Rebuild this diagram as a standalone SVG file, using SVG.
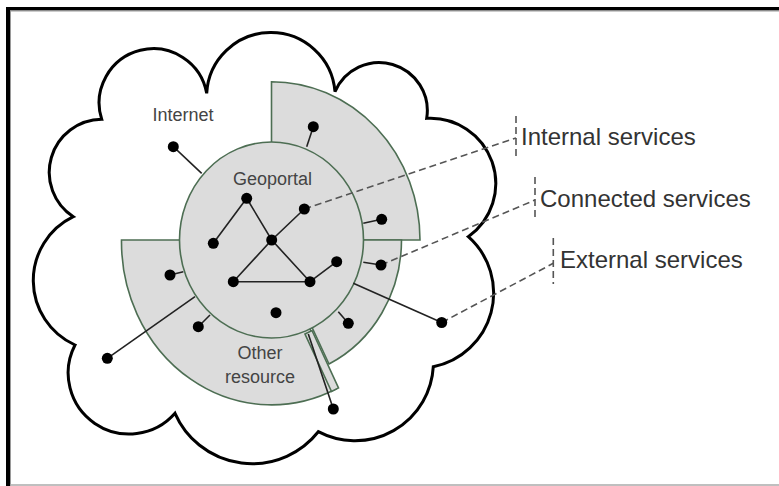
<svg xmlns="http://www.w3.org/2000/svg" width="779" height="486" viewBox="0 0 779 486">
  <style>
    .cloud { fill: #ffffff; stroke: #000000; stroke-width: 3; stroke-linejoin: miter; }
    .zone { fill: #dcdcdc; stroke: #4d6e53; stroke-width: 1.6; }
    .link { stroke: #222222; stroke-width: 1.6; fill: none; }
    .lead { stroke: #555555; stroke-width: 1.6; stroke-dasharray: 7 4; fill: none; }
    .dot { fill: #000000; }
    .lbl { font-family: "Liberation Sans", Arial, sans-serif; font-size: 18px; fill: #444444; text-anchor: middle; }
    .cap { font-family: "Liberation Sans", Arial, sans-serif; font-size: 24px; fill: #333333; }
  </style>

  <!-- frame -->
  <rect x="0" y="0" width="779" height="486" fill="#ffffff"/>
  <rect x="6" y="7" width="773" height="3.5" fill="#000000"/>
  <rect x="6" y="7" width="4" height="479" fill="#000000"/>
  <line x1="10" y1="11" x2="779" y2="11" stroke="#9a9a9a" stroke-width="1"/>
  <line x1="10.5" y1="11" x2="10.5" y2="486" stroke="#9a9a9a" stroke-width="1"/>
  <line x1="10" y1="485" x2="779" y2="485" stroke="#aaaaaa" stroke-width="1.5"/>

  <!-- internet cloud -->
  <g id="internet">
    <path class="cloud" d="M101.7,119.3 A54.2,54.2 0 1 1 206.7,93.3 A64.3,64.3 0 0 1 335,91.7 A48.1,48.1 0 0 1 426.7,118.3 A65.3,65.3 0 0 1 468.3,236.7 A75.2,75.2 0 0 1 433.3,366.7 A78.5,78.5 0 0 1 318.3,431.7 A84.3,84.3 0 0 1 175,413.3 A61,61 0 0 1 75,345 A70.8,70.8 0 0 1 73.3,216.7 A53,53 0 0 1 101.7,119.3 Z"/>
    <text class="lbl" x="183" y="121">Internet</text>
  </g>

  <!-- service rings -->
  <g id="internal-services">
    <path class="zone" d="M271.5,240 L271.5,81.7 A148.5,158.3 0 0 1 420,240 Z"/>
  </g>
  <g id="connected-services">
    <path class="zone" d="M271.5,240 L401.5,240 A130,138.3 0 0 1 329,364 Z"/>
  </g>
  <g id="other-resource">
    <path class="zone" d="M271.5,240 L121.5,240 A150,163 0 0 0 336,389 Z"/>
    <polygon class="zone" points="305,334 312,330.5 338.5,388 331.5,391.5"/>
    <text class="lbl" x="260" y="359">Other</text>
    <text class="lbl" x="260" y="383">resource</text>
  </g>

  <!-- geoportal core -->
  <g id="geoportal">
    <ellipse class="zone" cx="271.5" cy="240" rx="92" ry="98"/>
    <text class="lbl" x="272.5" y="185">Geoportal</text>
  </g>

  <!-- connectors -->
  <g id="connectors">
    <!-- outward links -->
    <line class="link" x1="173.3" y1="146.7" x2="201.7" y2="173.3"/>
    <line class="link" x1="313.3" y1="126.7" x2="306.7" y2="146.7"/>
    <line class="link" x1="381.7" y1="219.3" x2="363.3" y2="223.3"/>
    <line class="link" x1="381" y1="265" x2="363.3" y2="262.3"/>
    <line class="link" x1="348.3" y1="323.3" x2="338.3" y2="311.7"/>
    <line class="link" x1="353.3" y1="283.3" x2="441.7" y2="322.5"/>
    <line class="link" x1="170" y1="275" x2="183.3" y2="271.7"/>
    <line class="link" x1="198.3" y1="326.7" x2="210" y2="315"/>
    <line class="link" x1="195" y1="296.7" x2="107.3" y2="358.3"/>
    <line class="link" x1="308.3" y1="334" x2="333.3" y2="409"/>
    <!-- geoportal network -->
    <polyline class="link" points="213.3,243.3 246.7,198.3 271.7,240 304.3,209"/>
    <polyline class="link" points="233.3,281.7 271.7,240 310,281.7"/>
    <line class="link" x1="233.3" y1="281.7" x2="310" y2="281.7" stroke-width="2.6"/>
    <line class="link" x1="310" y1="281.7" x2="336.7" y2="261.7"/>

    <!-- leaders to captions -->
    <line class="lead" x1="304.3" y1="209" x2="516" y2="138"/>
    <line class="lead" x1="381" y1="265" x2="535" y2="200"/>
    <line class="lead" x1="441.7" y1="322.5" x2="553.3" y2="263.3"/>
    <line class="lead" x1="516" y1="116" x2="516" y2="158"/>
    <line class="lead" x1="535" y1="177" x2="535" y2="220"/>
    <line class="lead" x1="553.3" y1="238" x2="553.3" y2="284"/>
  </g>

  <!-- service nodes -->
  <g id="nodes">
    <circle class="dot" cx="173.3" cy="146.7" r="5.5"/>
    <circle class="dot" cx="313.3" cy="126.7" r="5.5"/>
    <circle class="dot" cx="381.7" cy="219.3" r="5.5"/>
    <circle class="dot" cx="381" cy="265" r="5.5"/>
    <circle class="dot" cx="348.3" cy="323.3" r="5.5"/>
    <circle class="dot" cx="441.7" cy="322.5" r="5.5"/>
    <circle class="dot" cx="170" cy="275" r="5.5"/>
    <circle class="dot" cx="198.3" cy="326.7" r="5.5"/>
    <circle class="dot" cx="107.3" cy="358.3" r="5.5"/>
    <circle class="dot" cx="333.3" cy="409" r="5.5"/>
    <circle class="dot" cx="246.7" cy="198.3" r="5.5"/>
    <circle class="dot" cx="213.3" cy="243.3" r="5.5"/>
    <circle class="dot" cx="271.7" cy="240" r="5.5"/>
    <circle class="dot" cx="304.3" cy="209" r="5.5"/>
    <circle class="dot" cx="233.3" cy="281.7" r="5.5"/>
    <circle class="dot" cx="310" cy="281.7" r="5.5"/>
    <circle class="dot" cx="336.7" cy="261.7" r="5.5"/>
    <circle class="dot" cx="276" cy="312.7" r="5.5"/>
  </g>

  <!-- captions -->
  <g id="captions">
    <text class="cap" x="521" y="145">Internal services</text>
    <text class="cap" x="540" y="207">Connected services</text>
    <text class="cap" x="560" y="268">External services</text>
  </g>
</svg>
